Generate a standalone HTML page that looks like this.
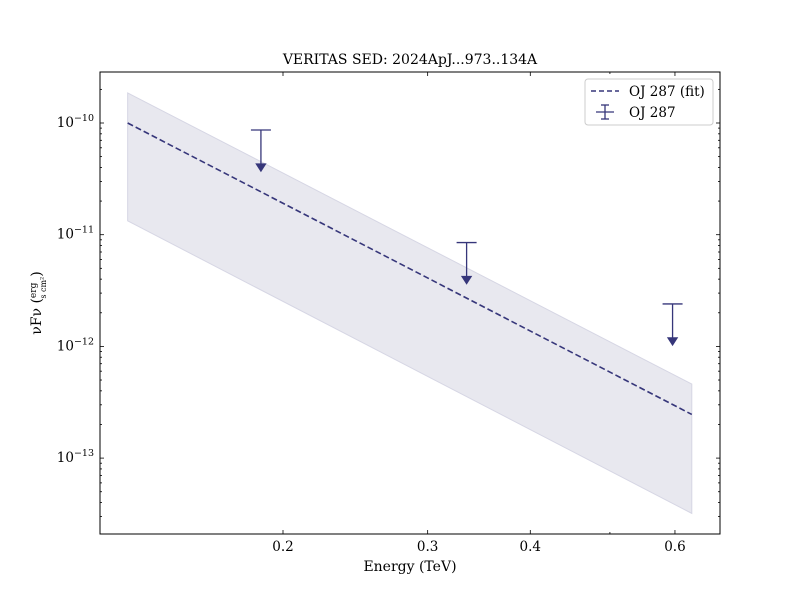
<!DOCTYPE html>
<html><head><meta charset="utf-8"><style>
body{margin:0;background:#fff}
svg text{font-family:"DejaVu Serif","Liberation Serif",serif;fill:#000}
</style></head><body>
<svg id="chart" width="800" height="600" viewBox="0 0 800 600">
<rect x="0" y="0" width="800" height="600" fill="#fff"/>
<text x="410" y="64" font-size="14" text-anchor="middle">VERITAS SED: 2024ApJ...973..134A</text>
<g id="band"></g><g id="fit"></g><g id="pts"></g>
<rect x="100" y="72" width="620" height="462" fill="none" stroke="#000" stroke-width="1"/>
<g id="ticks"></g>
<text x="410" y="571" font-size="14" text-anchor="middle">Energy (TeV)</text>
<g transform="translate(41,303) rotate(-90)">
<text x="0" y="0" font-size="14" text-anchor="middle">νFν (<tspan font-size="9" dy="-5">erg</tspan><tspan font-size="8" dx="-16" dy="10">s cm²</tspan><tspan dy="-5">)</tspan></text>
</g>
<g>
<rect x="585" y="79" width="128" height="46" rx="3" fill="#fff" stroke="#ccc"/>
<line x1="591" y1="91" x2="619" y2="91" stroke="#36367a" stroke-width="1.5" stroke-dasharray="5,3"/>
<text x="629" y="96" font-size="13.5">OJ 287 (fit)</text>
<g stroke="#36367a" stroke-width="1.3"><line x1="596" y1="112" x2="614" y2="112"/><line x1="605" y1="105" x2="605" y2="119"/><line x1="601" y1="105" x2="609" y2="105"/><line x1="601" y1="119" x2="609" y2="119"/></g>
<text x="629" y="117" font-size="13.5">OJ 287</text>
</g>
</svg>
<script>
const fitEnergy=[0.1294,0.629];
const fitFlux=[1.0e-10,2.46e-13];
const bandUpper=[1.86e-10,4.6e-13];
const bandLower=[1.33e-11,3.2e-14];
const ulEnergy=[0.188,0.3346,0.596];
const ulFlux=[8.65e-11,8.5e-12,2.4e-12];
const xTickLabels=["0.2","0.3","0.4","0.6"];
const xTickVals=[0.2,0.3,0.4,0.6];
const yDecades=[-13,-12,-11,-10];
const NS="http://www.w3.org/2000/svg";
const X=e=>283+(Math.log10(e)-Math.log10(0.2))*821.5;
const Y=f=>123-(Math.log10(f)+10)*111.7;
const C="#36367a";
function mk(t,a,p){const el=document.createElementNS(NS,t);for(const k in a)el.setAttribute(k,a[k]);document.getElementById(p).appendChild(el);return el;}
let pts=fitEnergy.map((e,i)=>X(e)+","+Y(bandUpper[i])).concat(fitEnergy.slice().reverse().map((e,j)=>X(e)+","+Y(bandLower[fitEnergy.length-1-j])));
let b=mk("polygon",{points:pts.join(" "),fill:"#e8e8ef",stroke:"#d6d6e4","stroke-width":1},"band");


let l=mk("polyline",{points:fitEnergy.map((e,i)=>X(e)+","+Y(fitFlux[i])).join(" "),fill:"none",stroke:C,"stroke-width":1.6,"stroke-dasharray":"6,3"},"fit");


ulEnergy.forEach((e,i)=>{const x=X(e),y=Y(ulFlux[i]);
const g=mk("g",{stroke:C,"stroke-width":1.3,fill:C},"pts");


const a=document.createElementNS(NS,"line");a.setAttribute("x1",x-10);a.setAttribute("x2",x+10);a.setAttribute("y1",y);a.setAttribute("y2",y);g.appendChild(a);
const v=document.createElementNS(NS,"line");v.setAttribute("x1",x);v.setAttribute("x2",x);v.setAttribute("y1",y);v.setAttribute("y2",y+36);g.appendChild(v);
const h=document.createElementNS(NS,"polygon");h.setAttribute("points",`${x-4.5},${y+34} ${x+4.5},${y+34} ${x},${y+41}`);g.appendChild(h);});
function tick(x1,y1,x2,y2){mk("line",{x1,y1,x2,y2,stroke:"#000","stroke-width":0.8},"ticks");}
xTickVals.forEach((v,i)=>{const x=X(v);tick(x,534,x,530);tick(x,72,x,76);
const t=mk("text",{x:x,y:551,"font-size":13.5,"text-anchor":"middle"},"ticks");t.textContent=xTickLabels[i];

});
[0.5].forEach(v=>{const x=X(v);tick(x,534,x,532);tick(x,72,x,74);});
for(let d=-14;d<=-10;d++){for(let m=1;m<10;m++){const y=Y(m*Math.pow(10,d));if(y<72||y>534)continue;const L=m==1?4:2;tick(100,y,100+L,y);tick(720,y,720-L,y);}}
yDecades.forEach(d=>{const y=Y(Math.pow(10,d));
const t=mk("text",{x:94,y:y+4,"font-size":13.5,"text-anchor":"end"},"ticks");
t.innerHTML="10<tspan font-size='9.5' dy='-6'>−"+(-d)+"</tspan>";

});
</script>
</body></html>
